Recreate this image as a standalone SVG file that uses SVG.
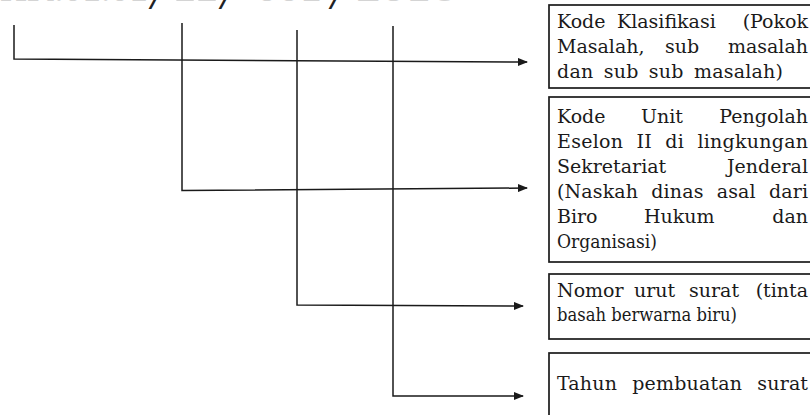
<svg xmlns="http://www.w3.org/2000/svg" width="810" height="415" viewBox="0 0 810 415">
<style>
.t{font-family:"DejaVu Serif","Liberation Serif",serif;font-size:19px;fill:#1a1a1a}
.e{text-anchor:end}
.box{fill:#fff;stroke:#1a1a1a;stroke-width:1.7}
.c{fill:none;stroke:#1a1a1a;stroke-width:1.5}
.top{font-family:"Liberation Serif",serif;font-size:40px;fill:#d4d4d4}
.sl{font-family:"Liberation Serif",serif;font-size:40px;font-style:italic;font-weight:bold;fill:#222}
</style>
<defs>
<marker id="ah" markerWidth="10" markerHeight="8" refX="9" refY="4" orient="auto" markerUnits="userSpaceOnUse"><path d="M0,0 L10,4 L0,8 z" fill="#1a1a1a"/></marker>
</defs>
<g id="top-number">
<text class="top" x="0" y="1" textLength="148" lengthAdjust="spacingAndGlyphs">HK.01.01</text>
<text class="sl" x="151" y="9">/</text>
<text class="top" x="174" y="1" textLength="44" lengthAdjust="spacingAndGlyphs">II</text>
<text class="sl" x="221" y="9">/</text>
<text class="top" x="256" y="1" textLength="66" lengthAdjust="spacingAndGlyphs">001</text>
<text class="sl" x="331" y="9">/</text>
<text class="top" x="356" y="1" textLength="100" lengthAdjust="spacingAndGlyphs">2016</text>
</g>
<g id="connectors">
<path class="c" d="M14,25 V59 L527,62" marker-end="url(#ah)"/>
<path class="c" d="M182,23 V190.5 L527,188" marker-end="url(#ah)"/>
<path class="c" d="M297,30 V305 L523,306" marker-end="url(#ah)"/>
<path class="c" d="M393,26 V396 L523,396" marker-end="url(#ah)"/>
</g>
<g id="node-klasifikasi">
<rect class="box" x="549" y="5" width="270" height="83"/>
<text class="t" y="28"><tspan x="557">Kode</tspan><tspan x="617">Klasifikasi</tspan></text>
<text class="t e" x="808" y="28">(Pokok</text>
<text class="t" y="53"><tspan x="557">Masalah,</tspan><tspan x="665">sub</tspan></text>
<text class="t e" x="808" y="53">masalah</text>
<text class="t" x="557" y="78" word-spacing="4" textLength="226" lengthAdjust="spacing">dan sub sub masalah)</text>
</g>
<g id="node-unit">
<rect class="box" x="549" y="97" width="270" height="165"/>
<text class="t" y="123"><tspan x="557">Kode</tspan><tspan x="641">Unit</tspan></text>
<text class="t e" x="808" y="123">Pengolah</text>
<text class="t" x="557" y="148" word-spacing="7" textLength="251" lengthAdjust="spacing">Eselon II di lingkungan</text>
<text class="t" x="557" y="173">Sekretariat</text>
<text class="t e" x="808" y="173">Jenderal</text>
<text class="t" x="557" y="198" word-spacing="7" textLength="251" lengthAdjust="spacing">(Naskah dinas asal dari</text>
<text class="t" y="223"><tspan x="557">Biro</tspan><tspan x="644">Hukum</tspan></text>
<text class="t e" x="808" y="223">dan</text>
<text class="t" x="557" y="248" textLength="100" lengthAdjust="spacingAndGlyphs">Organisasi)</text>
</g>
<g id="node-nomor">
<rect class="box" x="549" y="274" width="270" height="65"/>
<text class="t" y="297"><tspan x="557">Nomor</tspan><tspan x="634">urut</tspan><tspan x="689">surat</tspan></text>
<text class="t e" x="808" y="297">(tinta</text>
<text class="t" x="557" y="321" textLength="180" lengthAdjust="spacingAndGlyphs">basah berwarna biru)</text>
</g>
<g id="node-tahun">
<rect class="box" x="549" y="353" width="270" height="70"/>
<text class="t" x="557" y="390" word-spacing="9" textLength="251" lengthAdjust="spacing">Tahun pembuatan surat</text>
</g>
</svg>
